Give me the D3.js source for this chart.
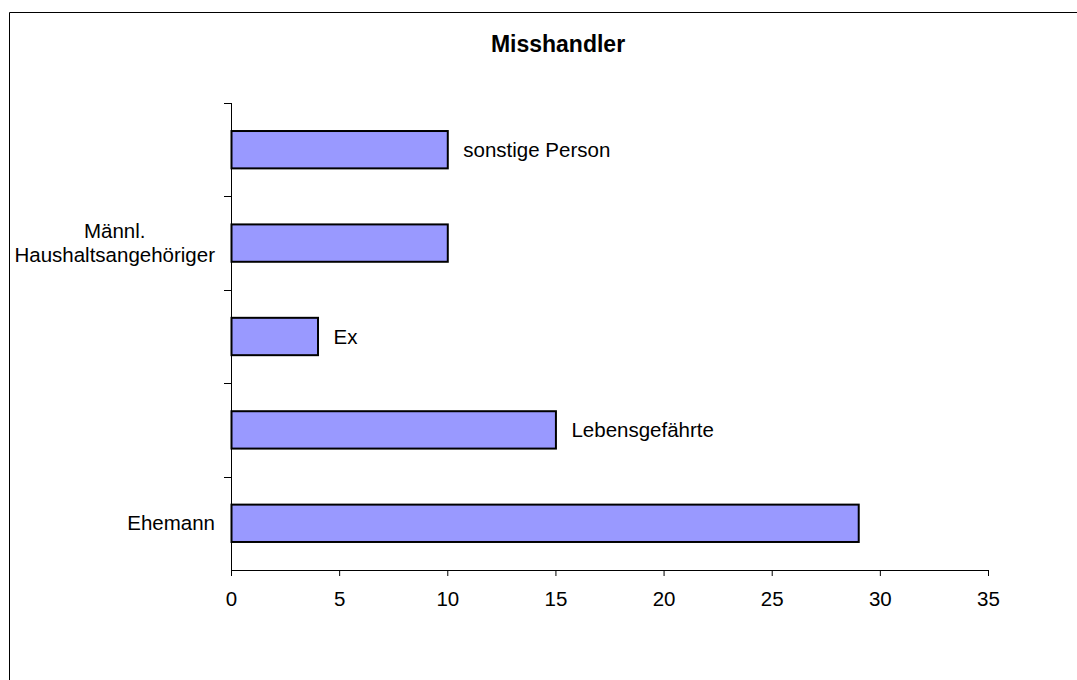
<!DOCTYPE html>
<html>
<head>
<meta charset="utf-8">
<script src="https://cdn.jsdelivr.net/npm/d3@7"></script>
<style>
  body { margin: 0; background: #fff; }
  text { font-family: "Liberation Sans", Arial, sans-serif; }
</style>
</head>
<body>
<div id="chart"></div>
<script>
// data, bottom to top as in the picture
var categories = ["Ehemann", "Lebensgefährte", "Ex", "Männl. Haushaltsangehöriger", "sonstige Person"];
var values = [29, 15, 4, 10, 10];
// which names sit on the axis, which next to the bar
var axisLabels = [["Ehemann"], [], [], ["Männl.", "Haushaltsangehöriger"], []];
var barLabels = ["", "Lebensgefährte", "Ex", "", "sonstige Person"];
var xTicks = [0, 5, 10, 15, 20, 25, 30, 35];

var W = 1077, H = 680;
var margin = {top: 103, left: 231, right: 89, bottom: 110},
    width = W - margin.left - margin.right,
    height = H - margin.top - margin.bottom;

var svg = d3.select("#chart")
  .append("svg")
    .attr("width", W)
    .attr("height", H);

// frame (only top and left edges show)
svg.append("line").attr("x1", 9.5).attr("x2", W).attr("y1", 12.5).attr("y2", 12.5)
  .attr("stroke", "#000").attr("stroke-width", 1);
svg.append("line").attr("x1", 9.5).attr("x2", 9.5).attr("y1", 12.5).attr("y2", H)
  .attr("stroke", "#000").attr("stroke-width", 1);

svg.append("text")
  .attr("x", 558)
  .attr("y", 52)
  .attr("text-anchor", "middle")
  .style("font-size", "23px")
  .style("font-weight", "bold")
  .text("Misshandler");

var g = svg.append("g")
  .attr("transform", "translate(" + margin.left + "," + margin.top + ")");

var x = d3.scaleLinear()
  .domain([0, 35])
  .range([0, width]);

// reversed so first category is at the bottom
var y = d3.scaleBand()
  .domain(categories.slice().reverse())
  .range([0, height])
  .paddingInner(0.6)
  .paddingOuter(0.3);

var yEdges = d3.scaleBand()
  .domain(categories.slice().reverse())
  .range([0, height]);

// x axis
var xAxis = g.append("g")
  .attr("transform", "translate(0," + height + ")")
  .call(d3.axisBottom(x).tickValues(xTicks).tickSize(6).tickSizeOuter(0).tickPadding(15));
xAxis.selectAll("text").style("font-size", "20.5px").attr("fill", "#000");
xAxis.selectAll("line, path").attr("stroke", "#000");

// y axis with ticks between categories
g.append("line")
  .attr("x1", 0.5).attr("x2", 0.5)
  .attr("y1", 0).attr("y2", height)
  .attr("stroke", "#000");
g.selectAll(".ytick")
  .data(categories)
  .enter()
  .append("line")
    .attr("x1", -7).attr("x2", 0)
    .attr("y1", d => Math.round(yEdges(d)) + 0.5)
    .attr("y2", d => Math.round(yEdges(d)) + 0.5)
    .attr("stroke", "#000");

// bars
g.selectAll(".bar")
  .data(categories)
  .enter()
  .append("rect")
    .attr("x", x(0) + 0.5)
    .attr("y", d => y(d))
    .attr("width", (d, i) => x(values[i]) - x(0))
    .attr("height", y.bandwidth())
    .attr("fill", "#9999FF")
    .attr("stroke", "#000")
    .attr("stroke-width", 2);

// labels right of bars
g.selectAll(".blabel")
  .data(categories)
  .enter()
  .append("text")
    .attr("x", (d, i) => x(values[i]) + 16)
    .attr("y", d => y(d) + y.bandwidth() / 2)
    .attr("dy", "0.35em")
    .style("font-size", "20.5px")
    .text((d, i) => barLabels[i]);

// category names on the axis, right aligned block, lines centred
categories.forEach(function(c, i) {
  var lines = axisLabels[i];
  if (!lines.length) return;
  var cy = yEdges(c) + yEdges.bandwidth() / 2;
  var lh = 24;
  var t = g.append("text")
    .attr("text-anchor", "middle")
    .style("font-size", "20.5px");
  lines.forEach(function(l, j) {
    t.append("tspan")
      .attr("y", cy + (j - (lines.length - 1) / 2) * lh)
      .attr("dy", "0.35em")
      .text(l);
  });
  // widest line ends 16px left of the axis
  var wMax = d3.max(t.selectAll("tspan").nodes(), n => n.getComputedTextLength());
  t.selectAll("tspan").attr("x", -16 - wMax / 2);
});
</script>
</body>
</html>
